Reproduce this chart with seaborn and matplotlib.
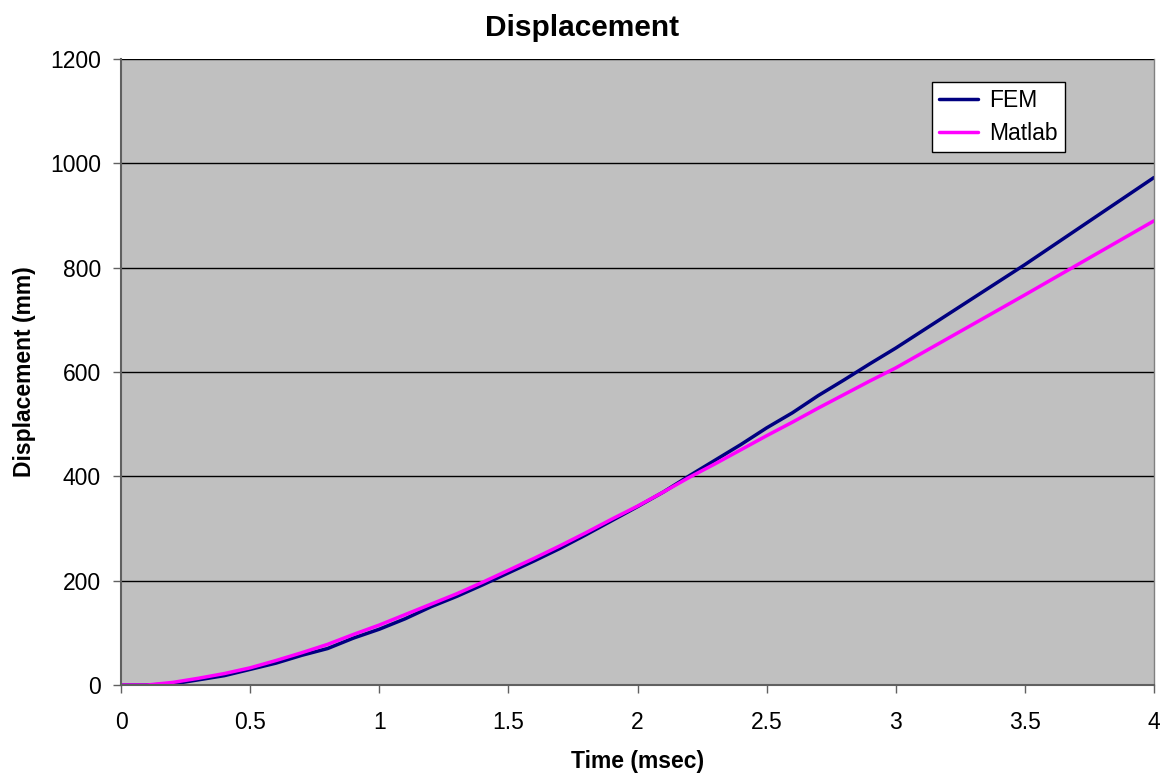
import matplotlib
matplotlib.use("Agg")
import matplotlib.pyplot as plt
import seaborn as sns
import pandas as pd

time_ms = [0.0, 0.1, 0.2, 0.3, 0.4, 0.5, 0.6, 0.7, 0.8, 0.9, 1.0, 1.1, 1.2, 1.3, 1.4,
           1.5, 1.6, 1.7, 1.8, 1.9, 2.0, 2.1, 2.2, 2.3, 2.4, 2.5, 2.6, 2.7, 2.8, 2.9,
           3.0, 3.5, 4.0]
fem = [0, 0, 2, 10, 18, 30, 42, 57, 70, 90, 107, 127, 150, 170, 192,
       215, 238, 262, 288, 315, 342, 370, 401, 431, 461, 493, 522, 555, 585, 616,
       646, 806, 973]
matlab = [0, 0, 5, 13, 22, 33, 47, 62, 78, 97, 115, 135, 155, 175, 197,
          220, 243, 267, 292, 318, 343, 370, 398, 424, 451, 478, 504, 531, 557, 583,
          608, 748, 890]

df = pd.DataFrame({"t": time_ms * 2, "v": fem + matlab,
                   "series": ["FEM"] * len(fem) + ["Matlab"] * len(matlab)})

sns.set_style("white")
plt.rcParams["font.family"] = ["Liberation Sans", "DejaVu Sans"]
plt.rcParams["text.color"] = "black"
plt.rcParams["xtick.color"] = "black"
plt.rcParams["ytick.color"] = "black"
plt.rcParams["axes.labelcolor"] = "black"

fig = plt.figure(figsize=(11.64, 7.78), dpi=100)
ax = fig.add_axes([0.104, 0.1195, 0.8874, 0.8045])
ax.set_facecolor("#C0C0C0")

sns.lineplot(data=df, x="t", y="v", hue="series",
             palette={"FEM": "#000080", "Matlab": "#FF00FF"},
             linewidth=2.5, ax=ax, legend=True)

ax.set_xlim(0, 4)
ax.set_ylim(0, 1200)
ax.set_xticks([0, 0.5, 1, 1.5, 2, 2.5, 3, 3.5, 4])
ax.set_xticklabels(["0", "0.5", "1", "1.5", "2", "2.5", "3", "3.5", "4"])
ax.set_yticks(range(0, 1201, 200))
ax.yaxis.grid(True, color="#000000", linewidth=1)
ax.set_axisbelow(True)
ax.tick_params(axis="both", labelsize=16.5, direction="out", length=5.5, width=1,
               color="#606060", left=True, bottom=True)
ax.tick_params(axis="x", pad=13)
ax.tick_params(axis="y", pad=9)
ax.spines["top"].set_visible(False)
ax.spines["right"].set_color("#808080")
ax.spines["right"].set_linewidth(1)
for s in ["left", "bottom"]:
    ax.spines[s].set_color("#606060")
    ax.spines[s].set_linewidth(1.5)

ax.set_xlabel("Time (msec)", fontsize=16.5, fontweight="bold", labelpad=12)
ax.set_ylabel("Displacement (mm)", fontsize=16.5, fontweight="bold", labelpad=10)
ax.set_title("Displacement", fontsize=21.5, fontweight="bold", pad=17, x=0.446)

leg = ax.legend(loc="upper left", bbox_to_anchor=(0.785, 0.963), frameon=True,
                fontsize=16.5, fancybox=False, edgecolor="black", framealpha=1,
                handlelength=1.7, borderpad=0.3, labelspacing=0.45, handletextpad=0.5,
                borderaxespad=0)
leg.get_frame().set_linewidth(1)
leg.set_title(None)

fig.savefig("out.png", dpi=100, facecolor="white")
